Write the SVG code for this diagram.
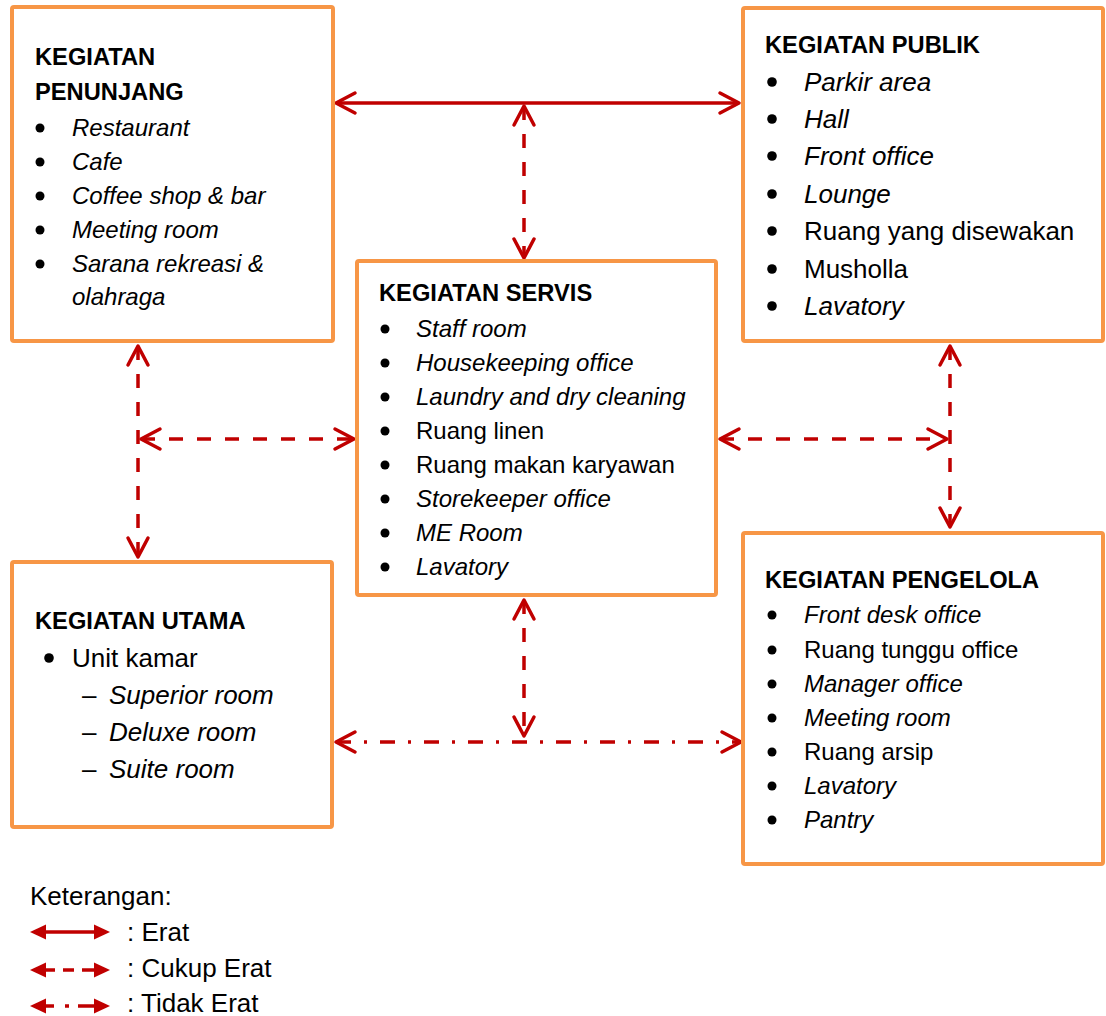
<svg xmlns="http://www.w3.org/2000/svg" width="1106" height="1016" viewBox="0 0 1106 1016">
<style>
.box{fill:#fff;stroke:#F79646;stroke-width:4}
text{font-family:"Liberation Sans",Arial,sans-serif;fill:#000}
.t{font-weight:bold;font-size:23.7px}
.s{font-size:24px}
.l{font-size:26px}
.i{font-style:italic}
.b{fill:#000}
.c{fill:none;stroke:#C00000;stroke-width:3.5}
.solid{marker-start:url(#ch);marker-end:url(#ch)}
.dash{stroke-dasharray:14 14;marker-start:url(#ch);marker-end:url(#ch)}
.dd{stroke-dasharray:15 13 3 13;marker-start:url(#ch);marker-end:url(#ch)}
.leg{fill:#C00000}
</style>
<defs>
<marker id="ch" viewBox="-24 -14 28 28" refX="0" refY="0" markerWidth="28" markerHeight="28" markerUnits="userSpaceOnUse" orient="auto-start-reverse">
<path d="M-19 -10 L0 0 L-19 10" fill="none" stroke="#C00000" stroke-width="3.5" stroke-linecap="round" stroke-linejoin="round" stroke-dasharray="none"/>
</marker>
</defs>
<rect width="1106" height="1016" fill="#fff"/>

<g id="connectors">
<path class="c solid" d="M336 103 H739"/>
<path class="c dash" d="M524 106 V258"/>
<path class="c dash" d="M138 346 V557"/>
<path class="c dash" d="M141 439 H354"/>
<path class="c dash" d="M720 439 H947"/>
<path class="c dash" d="M950 346 V527"/>
<path class="c dash" d="M524 600 V736"/>
<path class="c dd" d="M336 742 H741"/>
</g>

<g id="kegiatan-penunjang">
<rect class="box" x="12" y="7" width="321" height="334" rx="2"/>
<text class="t" x="35" y="65">KEGIATAN</text>
<text class="t" x="35" y="100">PENUNJANG</text>
<circle class="b" cx="40" cy="128" r="4.5"/>
<circle class="b" cx="40" cy="162" r="4.5"/>
<circle class="b" cx="40" cy="196" r="4.5"/>
<circle class="b" cx="40" cy="230" r="4.5"/>
<circle class="b" cx="40" cy="264" r="4.5"/>
<text class="s i" x="72" y="136">Restaurant</text>
<text class="s i" x="72" y="170">Cafe</text>
<text class="s i" x="72" y="204">Coffee shop &amp; bar</text>
<text class="s i" x="72" y="238">Meeting room</text>
<text class="s i" x="72" y="272">Sarana rekreasi &amp;</text>
<text class="s i" x="72" y="305">olahraga</text>
</g>

<g id="kegiatan-publik">
<rect class="box" x="743" y="8" width="360" height="333" rx="2"/>
<text class="t" x="765" y="53">KEGIATAN PUBLIK</text>
<circle class="b" cx="772" cy="82" r="4.8"/>
<circle class="b" cx="772" cy="119" r="4.8"/>
<circle class="b" cx="772" cy="156" r="4.8"/>
<circle class="b" cx="772" cy="194" r="4.8"/>
<circle class="b" cx="772" cy="231" r="4.8"/>
<circle class="b" cx="772" cy="269" r="4.8"/>
<circle class="b" cx="772" cy="306" r="4.8"/>
<text class="l i" x="804" y="91">Parkir area</text>
<text class="l i" x="804" y="128">Hall</text>
<text class="l i" x="804" y="165">Front office</text>
<text class="l i" x="804" y="203">Lounge</text>
<text class="l" x="804" y="240">Ruang yang disewakan</text>
<text class="l" x="804" y="278">Musholla</text>
<text class="l i" x="804" y="315">Lavatory</text>
</g>

<g id="kegiatan-servis">
<rect class="box" x="357" y="261" width="359" height="334" rx="2"/>
<text class="t" x="379" y="301">KEGIATAN SERVIS</text>
<circle class="b" cx="385" cy="329" r="4.5"/>
<circle class="b" cx="385" cy="363" r="4.5"/>
<circle class="b" cx="385" cy="397" r="4.5"/>
<circle class="b" cx="385" cy="431" r="4.5"/>
<circle class="b" cx="385" cy="465" r="4.5"/>
<circle class="b" cx="385" cy="499" r="4.5"/>
<circle class="b" cx="385" cy="533" r="4.5"/>
<circle class="b" cx="385" cy="567" r="4.5"/>
<text class="s i" x="416" y="337">Staff room</text>
<text class="s i" x="416" y="371">Housekeeping office</text>
<text class="s i" x="416" y="405">Laundry and dry cleaning</text>
<text class="s" x="416" y="439">Ruang linen</text>
<text class="s" x="416" y="473">Ruang makan karyawan</text>
<text class="s i" x="416" y="507">Storekeeper office</text>
<text class="s i" x="416" y="541">ME Room</text>
<text class="s i" x="416" y="575">Lavatory</text>
</g>

<g id="kegiatan-utama">
<rect class="box" x="12" y="562" width="320" height="265" rx="2"/>
<text class="t" x="35" y="629">KEGIATAN UTAMA</text>
<circle class="b" cx="49" cy="658" r="4.8"/>
<text class="l" x="72" y="667">Unit kamar</text>
<text class="l" x="82" y="704">–</text>
<text class="l" x="82" y="741">–</text>
<text class="l" x="82" y="778">–</text>
<text class="l i" x="109" y="704">Superior room</text>
<text class="l i" x="109" y="741">Deluxe room</text>
<text class="l i" x="109" y="778">Suite room</text>
</g>

<g id="kegiatan-pengelola">
<rect class="box" x="743" y="533" width="360" height="331" rx="2"/>
<text class="t" x="765" y="588">KEGIATAN PENGELOLA</text>
<circle class="b" cx="772" cy="615" r="4.5"/>
<circle class="b" cx="772" cy="650" r="4.5"/>
<circle class="b" cx="772" cy="684" r="4.5"/>
<circle class="b" cx="772" cy="718" r="4.5"/>
<circle class="b" cx="772" cy="752" r="4.5"/>
<circle class="b" cx="772" cy="786" r="4.5"/>
<circle class="b" cx="772" cy="820" r="4.5"/>
<text class="s i" x="804" y="623">Front desk office</text>
<text class="s" x="804" y="658">Ruang tunggu office</text>
<text class="s i" x="804" y="692">Manager office</text>
<text class="s i" x="804" y="726">Meeting room</text>
<text class="s" x="804" y="760">Ruang arsip</text>
<text class="s i" x="804" y="794">Lavatory</text>
<text class="s i" x="804" y="828">Pantry</text>
</g>

<g id="legend">
<text class="l" x="30" y="905">Keterangan:</text>
<path class="c" d="M44 932 H96"/>
<polygon class="leg" points="30,932 46,924.5 46,939.5"/>
<polygon class="leg" points="110,932 94,924.5 94,939.5"/>
<text class="l" x="127" y="941">: Erat</text>
<path class="c" d="M44 970 H55 M63 970 H74 M82 970 H96"/>
<polygon class="leg" points="30,970 46,962.5 46,977.5"/>
<polygon class="leg" points="110,970 94,962.5 94,977.5"/>
<text class="l" x="127" y="977">: Cukup Erat</text>
<path class="c" d="M44 1006 H54 M65 1006 H69 M78 1006 H96"/>
<polygon class="leg" points="30,1006 46,998.5 46,1013.5"/>
<polygon class="leg" points="110,1006 94,998.5 94,1013.5"/>
<text class="l" x="127" y="1012">: Tidak Erat</text>
</g>
</svg>
